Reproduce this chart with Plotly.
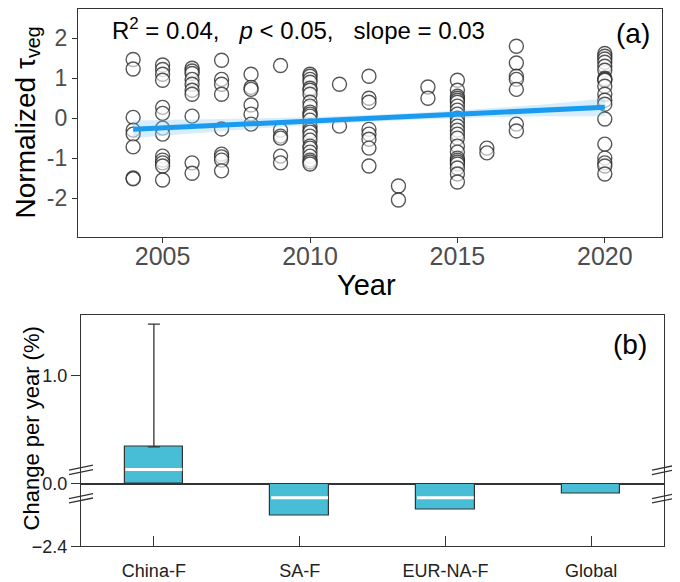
import plotly.graph_objects as go

W, H = 680, 582
# the photo shows the page shifted by the 8px body margin and a little squeezed vertically
OFFX, OFFY = 8, 8
KY = 1.0175
FONT = "Liberation Sans, Arial, sans-serif"
FRAME = "#333333"

# ---- panel (a): normalized tau_veg per study year ----
tau_2004 = [1.47, 1.23, 0.02, -0.30, -0.40, -0.72, -1.50, -1.52]
tau_2005 = [1.33, 1.22, 1.10, 0.95, 0.27, 0.12, -0.25, -0.40, -0.95, -1.05, -1.12, -1.20, -1.55]
tau_2006 = [1.25, 1.18, 1.12, 0.97, 0.85, 0.70, 0.60, 0.05, -1.12, -1.38]
tau_2007 = [1.45, 0.97, 0.85, 0.60, -0.27, -0.90, -0.97, -1.05, -1.32]
tau_2008 = [1.10, 0.77, 0.72, 0.33, 0.10, -0.15]
tau_2009 = [1.32, -0.30, -0.45, -0.50, -0.95, -1.12]
tau_2010 = [1.10, 1.05, 0.97, 0.90, 0.75, 0.70, 0.60, 0.40, 0.30, 0.15, 0.10, 0.05,
            -0.05, -0.20, -0.30, -0.35, -0.45, -0.55, -0.70, -0.75, -0.85, -0.95,
            -1.05, -1.10, -1.15]
tau_2011 = [0.85, -0.20]
tau_2012 = [1.05, 0.50, 0.40, -0.28, -0.40, -0.53, -0.75, -1.20]
tau_2013 = [-1.70, -2.05]
tau_2014 = [0.78, 0.50]
tau_2015 = [0.95, 0.70, 0.55, 0.50, 0.45, 0.40, 0.30, 0.20, 0.10, 0.00, -0.10, -0.20,
            -0.30, -0.40, -0.50, -0.70, -0.85, -1.00, -1.05, -1.10, -1.15, -1.25,
            -1.40, -1.60]
tau_2016 = [-0.75, -0.87]
tau_2017 = [1.80, 1.38, 1.05, 0.97, 0.72, -0.15, -0.32]
tau_2020 = [1.62, 1.55, 1.48, 1.40, 1.30, 1.20, 1.00, 0.97, 0.95, 0.80, 0.60, 0.45,
            0.35, -0.02, -0.65, -1.00, -1.12, -1.20, -1.40]

year_groups = [
    (2004, tau_2004), (2005, tau_2005), (2006, tau_2006), (2007, tau_2007),
    (2008, tau_2008), (2009, tau_2009), (2010, tau_2010), (2011, tau_2011),
    (2012, tau_2012), (2013, tau_2013), (2014, tau_2014), (2015, tau_2015),
    (2016, tau_2016), (2017, tau_2017), (2020, tau_2020),
]

fit_years = [2004, 2020]
fit_values = [-0.28, 0.27]
band_years = [2004, 2006, 2008, 2010, 2012, 2014, 2016, 2018, 2020]
band_lower = [-0.50, -0.38, -0.27, -0.17, -0.09, -0.03, 0.02, 0.05, 0.05]
band_upper = [-0.06, -0.04, -0.01, 0.03, 0.08, 0.15, 0.24, 0.35, 0.49]

a_xticks = [2005, 2010, 2015, 2020]
a_yticks = [-2, -1, 0, 1, 2]
a_yticklabels = ["-2", "-1", "0", "1", "2"]

# ---- panel (b): change per year by region ----
regions = ["China-F", "SA-F", "EUR-NA-F", "Global"]
change_mean = [0.34, -1.24, -1.00, -0.39]
change_mid = [0.13, -0.54, -0.54, None]
change_hi = [1.48, None, None, None]


def pxx(x):
    return min(1.0, max(0.0, (x - OFFX) / W))


def pxy(y):
    return min(1.0, max(0.0, 1 - (y * KY - OFFY) / H))


fig = go.Figure()

# scatter of all points
xs, ys = [], []
for yr, vals in year_groups:
    xs += [yr] * len(vals)
    ys += vals
fig.add_trace(go.Scatter(
    x=xs, y=ys, mode="markers", xaxis="x", yaxis="y",
    marker=dict(size=14, color="rgba(255,255,255,0.55)",
                line=dict(color="rgba(30,30,30,0.75)", width=1.4)),
    showlegend=False, hoverinfo="skip"))

# confidence band + fit line
fig.add_trace(go.Scatter(x=band_years, y=band_lower, mode="lines", line=dict(width=0),
                         xaxis="x", yaxis="y", showlegend=False, hoverinfo="skip"))
fig.add_trace(go.Scatter(x=band_years, y=band_upper, mode="lines", line=dict(width=0),
                         fill="tonexty", fillcolor="rgba(120,195,245,0.30)",
                         xaxis="x", yaxis="y", showlegend=False, hoverinfo="skip"))
fig.add_trace(go.Scatter(x=fit_years, y=fit_values, mode="lines",
                         line=dict(color="#1A9BEF", width=5),
                         xaxis="x", yaxis="y", showlegend=False))

# bars, split over the broken axis
idx = list(range(len(regions)))
pos_vals = [v if v > 0 else None for v in change_mean]
neg_vals = [v if v < 0 else None for v in change_mean]
err_plus = [(h - m) if h is not None else None for h, m in zip(change_hi, change_mean)]
err_minus = [0 if h is not None else None for h in change_hi]

bar_style = dict(color="#48BED6", line=dict(color=FRAME, width=1.2))
fig.add_trace(go.Bar(
    x=idx, y=pos_vals, width=0.4, marker=bar_style, xaxis="x2", yaxis="y2",
    error_y=dict(type="data", symmetric=False, array=err_plus, arrayminus=err_minus,
                 color=FRAME, thickness=1.3, width=6),
    showlegend=False))
fig.add_trace(go.Bar(x=idx, y=neg_vals, width=0.4, marker=bar_style,
                     xaxis="x3", yaxis="y3", showlegend=False))

# white mid lines inside the bars
for i, (m, v) in enumerate(zip(change_mid, change_mean)):
    if m is None:
        continue
    ax = ("x2", "y2") if v > 0 else ("x3", "y3")
    fig.add_trace(go.Scatter(x=[i - 0.195, i + 0.195], y=[m, m], mode="lines",
                             line=dict(color="white", width=3),
                             xaxis=ax[0], yaxis=ax[1], showlegend=False,
                             hoverinfo="skip"))

axis_common = dict(showgrid=False, zeroline=False, showline=True, mirror=True,
                   linecolor=FRAME, linewidth=1.3)

fig.update_layout(
    width=W, height=H, autosize=False,
    margin=dict(l=0, r=0, t=0, b=0),
    paper_bgcolor="white", plot_bgcolor="white",
    font=dict(family=FONT, color="black"),
    bargap=0,
    # panel (a)
    xaxis=dict(axis_common, domain=[pxx(78), pxx(662)], range=[2002.13, 2021.94],
               tickvals=a_xticks, ticks="outside", ticklen=5, tickwidth=1.3,
               tickcolor=FRAME, tickfont=dict(size=25, color="#4D4D4D"),
               ticklabelstandoff=-8, anchor="y"),
    yaxis=dict(axis_common, domain=[pxy(236), pxy(8)], range=[-2.97, 2.73],
               tickvals=a_yticks, ticktext=a_yticklabels, ticks="outside", ticklen=5,
               tickwidth=1.3, tickcolor=FRAME,
               tickfont=dict(size=23, color="#4D4D4D"), anchor="x"),
    # panel (b) upper part
    xaxis2=dict(axis_common, domain=[pxx(81), pxx(664)], range=[-0.5, 3.5],
                showticklabels=False, ticks="", anchor="y2"),
    yaxis2=dict(axis_common, domain=[pxy(483.3), pxy(314)], range=[0, 1.568],
                tickvals=[0.0, 1.0], ticktext=["0.0", "1.0"], ticks="outside",
                ticklen=9, tickwidth=1.2, tickcolor=FRAME,
                tickfont=dict(size=18, color="#222222"), anchor="x2"),
    # panel (b) lower part
    xaxis3=dict(axis_common, domain=[pxx(81), pxx(664)], range=[-0.5, 3.5],
                tickvals=idx, ticktext=regions, ticks="inside", ticklen=10,
                tickwidth=1.2, tickcolor=FRAME, ticklabelstandoff=8,
                tickfont=dict(size=18, color="#222222"), anchor="y3"),
    yaxis3=dict(axis_common, domain=[pxy(546), pxy(483.3)], range=[-2.4, 0],
                tickvals=[-2.4], ticktext=["\u22122.4"], ticks="outside", ticklen=9,
                tickwidth=1.2, tickcolor=FRAME,
                tickfont=dict(size=18, color="#222222"), anchor="x3"),
)

annotations = [
    dict(text="R<sup>2</sup> = 0.04,&nbsp;&nbsp; <i>p</i> < 0.05,&nbsp;&nbsp; slope = 0.03",
         x=pxx(110), y=pxy(28), xanchor="left", yanchor="middle",
         font=dict(size=24, color="black")),
    dict(text="(a)", x=pxx(633), y=pxy(32), xanchor="center", yanchor="middle",
         font=dict(size=28, color="black")),
    dict(text="(b)", x=pxx(630), y=pxy(344), xanchor="center", yanchor="middle",
         font=dict(size=28, color="black")),
    dict(text="Year", x=pxx(366), y=pxy(284), xanchor="center", yanchor="middle",
         font=dict(size=29, color="black")),
    dict(text="Normalized \u03c4<sub>veg</sub>", x=0, y=pxy(122), textangle=-90,
         xanchor="left", yanchor="middle", font=dict(size=28, color="black")),
    dict(text="Change per year (%)", x=pxx(31), y=pxy(428), textangle=-90,
         xanchor="center", yanchor="middle", font=dict(size=22, color="black")),
]
for a in annotations:
    a.update(xref="paper", yref="paper", showarrow=False)
fig.update_layout(annotations=annotations)

# axis-break marks on both sides of panel (b)
shapes = []
for cx in (81, 664):
    for cy in (469.5, 498):
        for dy in (-2.2, 2.2):
            shapes.append(dict(type="line", xref="paper", yref="paper",
                               x0=pxx(cx - 12), y0=pxy(cy + dy + 2.5),
                               x1=pxx(cx + 12), y1=pxy(cy + dy - 2.5),
                               line=dict(color=FRAME, width=1.3)))
fig.update_layout(shapes=shapes)

fig.write_html("out.html")
